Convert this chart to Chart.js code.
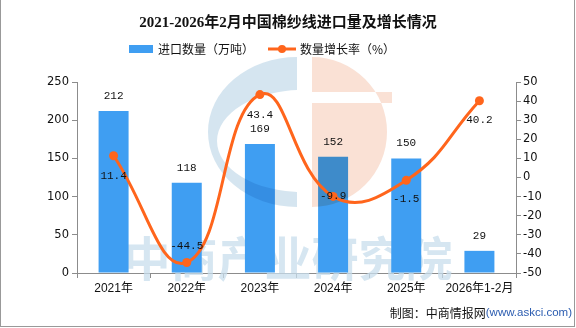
<!DOCTYPE html>
<html>
<head>
<meta charset="utf-8">
<script src="https://cdn.jsdelivr.net/npm/chart.js@4/dist/chart.umd.min.js"></script>
<style>
  html, body { margin: 0; padding: 0; background: #fff; }
  #wrap { width: 576px; height: 328px; }
</style>
</head>
<body>
<div id="wrap"><canvas id="displayChart" width="576" height="328"></canvas></div>
<script>
//chart data
var categories = ['2021年', '2022年', '2023年', '2024年', '2025年', '2026年1-2月'];
var importVolume = [212, 118, 169, 152, 150, 29];      // 万吨
var growthRate = [11.4, -44.5, 43.4, -9.9, -1.5, 40.2]; // %
var leftTicks = [0, 50, 100, 150, 200, 250];
var rightTicks = [-50, -40, -30, -20, -10, 0, 10, 20, 30, 40, 50];

var chartTitle = '2021-2026年2月中国棉纱线进口量及增长情况';
var sourceText = '制图：中商情报网';
var sourceUrl = '(www.askci.com)';
var watermarkText = '中商产业研究院';

var barColor = '#3f9ef2';
var lineColor = '#ff651c';
var axisColor = '#8c8c8c';

//title, legend, footer and frame
var decorPlugin = {
  id: 'decor',
  beforeDraw: function (chart) {
    var ctx = chart.ctx;
    ctx.save();
    ctx.fillStyle = '#fff';
    ctx.fillRect(0, 0, chart.width, chart.height);
    ctx.restore();
  },
  afterDraw: function (chart) {
    var ctx = chart.ctx;
    ctx.save();
    // title
    ctx.fillStyle = '#111';
    ctx.font = 'bold 15px "Liberation Serif", "Noto Sans CJK SC", serif';
    ctx.textAlign = 'center';
    ctx.textBaseline = 'middle';
    ctx.fillText(chartTitle, 288, 23);

    // legend
    ctx.font = '12px "Noto Sans CJK SC", sans-serif';
    ctx.textAlign = 'left';
    ctx.fillStyle = barColor;
    ctx.fillRect(129, 45, 24, 8);
    ctx.fillStyle = '#111';
    ctx.fillText(chart.data.datasets[0].label, 158, 49);
    ctx.strokeStyle = lineColor;
    ctx.lineWidth = 3;
    ctx.beginPath();
    ctx.moveTo(268, 49);
    ctx.lineTo(296, 49);
    ctx.stroke();
    ctx.fillStyle = lineColor;
    ctx.beginPath();
    ctx.arc(282, 49, 4, 0, Math.PI * 2);
    ctx.fill();
    ctx.fillStyle = '#111';
    ctx.fillText(chart.data.datasets[1].label, 300, 49);

    // footer
    ctx.textAlign = 'right';
    ctx.font = '11.5px "Liberation Sans", sans-serif';
    ctx.fillStyle = '#2b5cb0';
    ctx.fillText(sourceUrl, 572, 313);
    var w = ctx.measureText(sourceUrl).width;
    ctx.font = '12px "Noto Sans CJK SC", sans-serif';
    ctx.fillStyle = '#111';
    ctx.fillText(sourceText, 572 - w, 313);

    // frame
    ctx.strokeStyle = '#999';
    ctx.lineWidth = 1;
    ctx.strokeRect(0.5, -0.5, 574, 327);
    ctx.restore();
  }
};

//watermark text behind the bars, logo laid over them
var watermarkPlugin = {
  id: 'watermark',
  beforeDatasetsDraw: function (chart) {
    var ctx = chart.ctx;
    ctx.save();
    ctx.fillStyle = 'rgba(200,222,236,0.75)';
    ctx.font = 'bold 47px "Noto Sans CJK SC", sans-serif';
    ctx.textAlign = 'center';
    ctx.textBaseline = 'middle';
    ctx.fillText(watermarkText, 288, 258);
    ctx.restore();
  },
  afterDatasetDraw: function (chart, args) {
    if (args.index !== 0) return;
    var ctx = chart.ctx;
    ctx.save();
    ctx.globalCompositeOperation = 'multiply';
    // blue ring, cut on the right
    ctx.save();
    ctx.beginPath();
    ctx.rect(150, 40, 147, 200);
    ctx.clip();
    ctx.beginPath();
    ctx.ellipse(297, 132, 89, 75, 0, 0, Math.PI * 2);
    ctx.ellipse(302, 141, 85, 51, 0, 0, Math.PI * 2);
    ctx.fillStyle = 'rgb(213,229,240)';
    ctx.fill('evenodd');
    ctx.restore();
    // peach half disc with a gap
    ctx.beginPath();
    ctx.moveTo(312, 57);
    ctx.arc(312, 132, 75, -Math.PI / 2, Math.PI / 2);
    ctx.closePath();
    ctx.rect(312, 92, 80, 11);
    ctx.fillStyle = 'rgb(250,225,213)';
    ctx.fill('evenodd');
    ctx.restore();
  }
};

//value labels over bars and line points
var labelPlugin = {
  id: 'valueLabels',
  afterDatasetsDraw: function (chart) {
    var ctx = chart.ctx;
    ctx.save();
    ctx.font = '11px "Liberation Mono", monospace';
    ctx.fillStyle = '#111';
    ctx.textAlign = 'center';
    ctx.textBaseline = 'middle';
    chart.getDatasetMeta(0).data.forEach(function (bar, i) {
      ctx.fillText(String(importVolume[i]), bar.x, bar.y - 15);
    });
    var dy = [20, -16, 20, 0, 19, 19];
    chart.getDatasetMeta(1).data.forEach(function (pt, i) {
      ctx.fillText(growthRate[i].toFixed(1), pt.x, pt.y + dy[i]);
    });
    ctx.restore();
  }
};

var tickFont = { family: '"DejaVu Sans", sans-serif', size: 11.5 };

var c = document.getElementById('displayChart');
var ctx = c.getContext('2d');
var chart = new Chart(ctx, {
  type: 'bar',
  data: {
    labels: categories,
    datasets: [{
      type: 'bar',
      label: '进口数量（万吨）',
      data: importVolume,
      backgroundColor: barColor,
      borderWidth: 0,
      barPercentage: 0.41,
      categoryPercentage: 1,
      yAxisID: 'y',
      order: 2
    }, {
      type: 'line',
      label: '数量增长率（%）',
      data: growthRate,
      borderColor: lineColor,
      backgroundColor: lineColor,
      borderWidth: 3,
      tension: 0.45,
      pointRadius: 4.5,
      pointBorderWidth: 0,
      pointBackgroundColor: lineColor,
      yAxisID: 'y1',
      order: 1
    }]
  },
  options: {
    responsive: false,
    animation: false,
    layout: { padding: { top: 82, bottom: 35, left: 0, right: 0 } },
    plugins: {
      legend: { display: false },
      title: { display: false },
      tooltip: { enabled: false }
    },
    scales: {
      x: {
        grid: { offset: true, drawOnChartArea: false, color: axisColor, tickLength: 5 },
        border: { color: axisColor },
        ticks: { color: '#111', font: { family: '"Liberation Sans", "Noto Sans CJK SC", sans-serif', size: 12 }, padding: 3, maxRotation: 0 },
        afterFit: function (s) { s.height = 20; }
      },
      y: {
        position: 'left',
        min: 0, max: 250,
        afterBuildTicks: function (s) { s.ticks = leftTicks.map(function (v) { return { value: v }; }); },
        grid: { drawOnChartArea: false, color: axisColor, tickLength: 5 },
        border: { color: axisColor },
        ticks: { color: '#111', font: tickFont, padding: 3 },
        afterFit: function (s) { s.width = 77; }
      },
      y1: {
        position: 'right',
        min: -50, max: 50,
        afterBuildTicks: function (s) { s.ticks = rightTicks.map(function (v) { return { value: v }; }); },
        grid: { drawOnChartArea: false, color: axisColor, tickLength: 5 },
        border: { color: axisColor },
        ticks: { color: '#111', font: tickFont, padding: 2 },
        afterFit: function (s) { s.width = 60; }
      }
    }
  },
  plugins: [decorPlugin, watermarkPlugin, labelPlugin]
});
</script>
</body>
</html>
